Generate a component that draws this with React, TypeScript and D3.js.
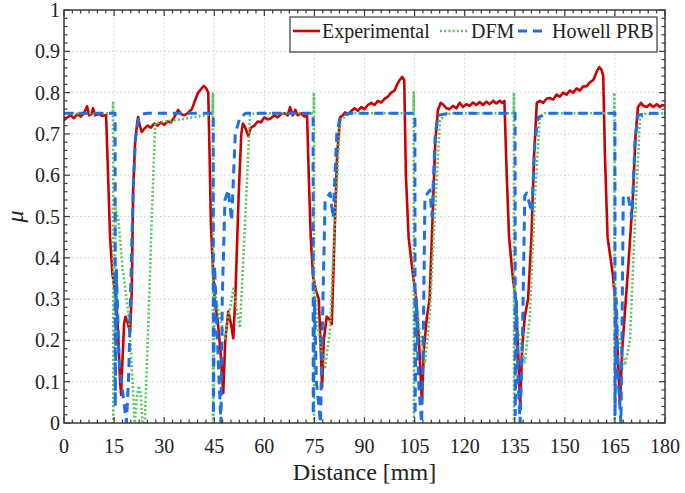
import React from "react";
import * as d3 from "d3";

type P = [number, number];

const xTicks = [0, 15, 30, 45, 60, 75, 90, 105, 120, 135, 150, 165, 180];
const yTicks = [0, 0.1, 0.2, 0.3, 0.4, 0.5, 0.6, 0.7, 0.8, 0.9, 1];
const yTickLabels = ["0", "0.1", "0.2", "0.3", "0.4", "0.5", "0.6", "0.7", "0.8", "0.9", "1"];
const seriesNames = ["Experimental", "DFM", "Howell PRB"];

const experimental: P[] = [
  [0, 0.733], [1, 0.74], [2, 0.745], [3, 0.738], [4, 0.748], [5, 0.742], [6, 0.75], [6.9, 0.767], [7.5, 0.745], [8.2, 0.748], [8.7, 0.762], [9.3, 0.745], [10.5, 0.748], [11.5, 0.744], [12.6, 0.746],
  [13.2, 0.6], [13.8, 0.45], [14.5, 0.36], [15.3, 0.32], [15.8, 0.28], [16.3, 0.2], [16.8, 0.1], [17.1, 0.068], [17.5, 0.15], [18.0, 0.24], [18.4, 0.257], [19.0, 0.245], [19.8, 0.22], [20.3, 0.32], [20.7, 0.56], [21.3, 0.68], [21.9, 0.726], [22.2, 0.741], [22.7, 0.72], [23.3, 0.705],
  [24, 0.712], [25, 0.72], [26, 0.715], [27, 0.725], [28, 0.72], [29, 0.728], [30, 0.722], [31, 0.73], [32, 0.728], [33, 0.74], [34.2, 0.758], [35, 0.748], [36, 0.745], [37, 0.75], [38.3, 0.76], [39.2, 0.78], [40.2, 0.8], [41.2, 0.81], [41.9, 0.816], [42.6, 0.81], [43.2, 0.8],
  [43.6, 0.65], [44.0, 0.48], [44.7, 0.358], [45.2, 0.29], [46, 0.25], [46.8, 0.18], [47.7, 0.073], [48.3, 0.2], [49.2, 0.27], [50, 0.24], [50.7, 0.205], [51.3, 0.3], [52.3, 0.55], [53.1, 0.7], [53.6, 0.725], [54.3, 0.715], [55.2, 0.695], [56, 0.715], [57, 0.72], [58, 0.73], [59, 0.728], [60, 0.74], [61, 0.735], [62, 0.738], [63, 0.745], [64, 0.74], [65, 0.748], [66, 0.75], [67, 0.745], [67.7, 0.765], [68.5, 0.745], [69.3, 0.758], [70, 0.745], [71, 0.75], [72, 0.742], [72.8, 0.745],
  [73.3, 0.6], [73.9, 0.45], [74.6, 0.354], [75.5, 0.32], [76.3, 0.3], [76.8, 0.2], [77.3, 0.087], [77.8, 0.2], [78.7, 0.258], [79.5, 0.25], [80.2, 0.24], [81, 0.45], [81.8, 0.65], [82.7, 0.74], [83.5, 0.745], [84.2, 0.752], [85, 0.746], [86, 0.755], [87, 0.762], [88, 0.756], [89, 0.765], [90, 0.76], [91, 0.77], [92, 0.775], [93, 0.77], [94, 0.78], [95, 0.776], [96, 0.785], [97, 0.79], [98, 0.8], [99, 0.805], [99.8, 0.82], [100.5, 0.83], [101.3, 0.838], [101.9, 0.83],
  [102.4, 0.6], [103.2, 0.45], [104.6, 0.354], [105.5, 0.3], [106.3, 0.2], [107.2, 0.05], [107.8, 0.18], [108.7, 0.257], [109.5, 0.3], [110.4, 0.5], [111.2, 0.68], [112, 0.758], [112.8, 0.775], [113.7, 0.77], [114.5, 0.762], [115.5, 0.76], [116.5, 0.768], [117.5, 0.762], [118.5, 0.775], [119.5, 0.765], [120.5, 0.772], [121.5, 0.768], [122.5, 0.776], [123.5, 0.77], [124.5, 0.777], [125.5, 0.77], [126.5, 0.778], [127.5, 0.772], [128.5, 0.78], [129.5, 0.774], [130.5, 0.78], [131.3, 0.775], [131.9, 0.78],
  [132.6, 0.6], [133.3, 0.45], [134.5, 0.346], [135.3, 0.3], [136, 0.18], [136.6, 0.04], [137.2, 0.18], [138, 0.257], [139, 0.3], [140, 0.45], [140.8, 0.65], [141.6, 0.775], [142.5, 0.78], [143.5, 0.775], [144.5, 0.785], [145.5, 0.787], [146.5, 0.783], [147.5, 0.795], [148.5, 0.79], [149.5, 0.8], [150.5, 0.795], [151.5, 0.805], [152.5, 0.8], [153.5, 0.81], [154.5, 0.805], [155.5, 0.815], [156.5, 0.815], [157.5, 0.825], [158.5, 0.83], [159.5, 0.85], [160.3, 0.862], [161, 0.855], [161.5, 0.84],
  [162, 0.65], [162.8, 0.45], [164.4, 0.358], [165, 0.3], [165.8, 0.18], [166.5, 0.045], [167.2, 0.18], [168, 0.27], [169, 0.38], [170.4, 0.55], [171.2, 0.7], [171.9, 0.765], [172.8, 0.775], [173.5, 0.768], [174.5, 0.765], [175.5, 0.772], [176.5, 0.765], [177.5, 0.772], [178.5, 0.765], [179.2, 0.77], [180, 0.768],
];

const dfm: P[] = [
  [0, 0.75], [14.6, 0.75], [14.7, 0.775], [14.75, 0.0], [15.5, 0.52], [16.3, 0.49], [17.5, 0.38], [19.2, 0.27], [20, 0.18], [21.2, 0.0], [21.8, 0.06], [22.4, 0.09], [23, 0.07], [23.5, 0.0], [24.2, 0.0], [25.3, 0.25], [26.3, 0.5], [27.3, 0.725], [30, 0.73], [35, 0.735], [40, 0.742], [44.5, 0.748],
  [44.6, 0.8], [44.65, 0.0], [45.1, 0.32], [46.5, 0.26], [48.2, 0.205], [50.7, 0.325], [52.7, 0.23], [54.3, 0.5], [55.7, 0.745], [57, 0.75], [74.8, 0.75],
  [74.85, 0.8], [74.9, 0.0], [75.0, 0.346], [75.9, 0.24], [77, 0.18], [78.2, 0.135], [79.6, 0.22], [81.2, 0.5], [82.7, 0.733], [84.7, 0.745], [86, 0.75], [104.7, 0.75],
  [104.75, 0.8], [104.8, 0.0], [104.9, 0.33], [106.6, 0.22], [108.1, 0.145], [109.6, 0.27], [111.1, 0.515], [112.6, 0.733], [114, 0.745], [116, 0.75], [134.7, 0.75],
  [134.75, 0.8], [134.8, 0.0], [134.9, 0.34], [136, 0.22], [138, 0.145], [139.5, 0.257], [141, 0.54], [142.5, 0.74], [144, 0.75], [164.8, 0.75],
  [164.85, 0.8], [164.9, 0.0], [165.0, 0.34], [166, 0.21], [168, 0.14], [169.5, 0.2], [171, 0.487], [172.5, 0.738], [174, 0.748], [180, 0.75],
];

const howell: P[] = [
  [0, 0.75], [15.3, 0.75], [15.35, 0.04], [15.7, 0.37], [16.5, 0.15], [17.5, 0.08], [18.7, 0.0], [19.4, 0.12], [20.2, 0.4], [20.8, 0.58], [21.4, 0.69], [22.3, 0.735], [23.5, 0.748], [25, 0.75], [44.7, 0.75],
  [44.75, 0.02], [45.1, 0.38], [46.2, 0.15], [47, 0.0], [47.4, 0.3], [48.2, 0.54], [49.2, 0.565], [50.2, 0.49], [51.3, 0.7], [52.7, 0.74], [54.5, 0.75], [74.6, 0.75],
  [74.65, 0.02], [75, 0.3], [75.6, 0.1], [76.8, 0.0], [77.3, 0.2], [78.2, 0.54], [79.7, 0.557], [80.6, 0.497], [81.7, 0.7], [82.7, 0.74], [85, 0.75], [105.1, 0.75],
  [105.15, 0.02], [105.5, 0.3], [106.2, 0.1], [107.1, 0.0], [107.6, 0.2], [108.1, 0.547], [109.6, 0.564], [110.2, 0.5], [111.2, 0.7], [112, 0.745], [115, 0.75], [135.1, 0.75],
  [135.15, 0.02], [135.5, 0.3], [136, 0.1], [136.6, 0.0], [137.3, 0.2], [138, 0.55], [138.6, 0.557], [140.1, 0.51], [141, 0.68], [142, 0.74], [145, 0.75], [165, 0.75],
  [165.05, 0.02], [165.4, 0.3], [166, 0.1], [166.8, 0.0], [167.1, 0.2], [167.5, 0.545], [168.9, 0.552], [170.1, 0.497], [171, 0.68], [171.9, 0.745], [175, 0.75], [180, 0.75],
];

const W = 685;
const H = 493;
const L = 64, R = 665, T = 10, B = 423;
const FONT = '"Liberation Serif", "DejaVu Serif", "Noto Serif", "Nimbus Roman", "Nimbus Roman No9 L", FreeSerif, Tinos, "Times New Roman", Times, Georgia, serif';

export default function App() {
  const x = d3.scaleLinear().domain([0, 180]).range([L, R]);
  const y = d3.scaleLinear().domain([0, 1]).range([B, T]);
  const line = d3.line<P>().x((d) => x(d[0])).y((d) => y(d[1]));

  const xMinor = d3.range(0, 180.001, 2.5).filter((v) => Math.abs(v / 15 - Math.round(v / 15)) > 1e-6);
  const yMinor = d3.range(0, 1.0001, 0.02).filter((v) => Math.abs(v * 10 - Math.round(v * 10)) > 1e-6);

  const axisColor = "#3a3a3a";
  const red = "#cc0000";
  const green = "#5ec45e";
  const blue = "#1f6fe0";
  const ts: React.CSSProperties = { fontFamily: FONT };

  return (
    <svg width={W} height={H} style={{ position: "absolute", left: 0, top: 0, background: "#fff", fontFamily: FONT }}>
      <defs>
        <clipPath id="plot">
          <rect x={L} y={T - 2} width={R - L} height={B - T + 2} />
        </clipPath>
      </defs>
      <rect x={0} y={0} width={W} height={H} fill="#fff" />
      <g stroke="#cfcfcf" strokeWidth={1} strokeDasharray="1.5,2.5">
        {xTicks.slice(1, -1).map((t) => (
          <line key={"gx" + t} x1={x(t)} x2={x(t)} y1={T} y2={B} />
        ))}
        {yTicks.slice(1, -1).map((t) => (
          <line key={"gy" + t} x1={L} x2={R} y1={y(t)} y2={y(t)} />
        ))}
      </g>
      <g clipPath="url(#plot)" fill="none" strokeLinejoin="round">
        <path d={line(experimental) || ""} stroke={red} strokeWidth={2.6} />
        <path d={line(dfm) || ""} stroke={green} strokeWidth={2.6} strokeDasharray="2,2.2" />
        <path d={line(howell) || ""} stroke={blue} strokeWidth={3} strokeDasharray="9,6" />
      </g>
      <g stroke={axisColor} strokeWidth={1.2}>
        {xTicks.map((t) => (
          <g key={"xt" + t}>
            <line x1={x(t)} x2={x(t)} y1={B} y2={B - 6} />
            <line x1={x(t)} x2={x(t)} y1={T} y2={T + 6} />
          </g>
        ))}
        {xMinor.map((t) => (
          <g key={"xm" + t}>
            <line x1={x(t)} x2={x(t)} y1={B} y2={B - 3.5} />
            <line x1={x(t)} x2={x(t)} y1={T} y2={T + 3.5} />
          </g>
        ))}
        {yTicks.map((t) => (
          <g key={"yt" + t}>
            <line x1={L} x2={L + 6} y1={y(t)} y2={y(t)} />
            <line x1={R} x2={R - 6} y1={y(t)} y2={y(t)} />
          </g>
        ))}
        {yMinor.map((t) => (
          <g key={"ym" + t}>
            <line x1={L} x2={L + 3.5} y1={y(t)} y2={y(t)} />
            <line x1={R} x2={R - 3.5} y1={y(t)} y2={y(t)} />
          </g>
        ))}
      </g>
      <rect x={L} y={T} width={R - L} height={B - T} fill="none" stroke={axisColor} strokeWidth={1.5} />
      <g fontSize={20} fill="#222">
        {xTicks.map((t) => (
          <text key={"xl" + t} style={ts} x={x(t)} y={B + 30} textAnchor="middle">{t}</text>
        ))}
        {yTicks.map((t, i) => (
          <text key={"yl" + t} style={ts} x={L - 4} y={y(t) + 7} textAnchor="end">{yTickLabels[i]}</text>
        ))}
      </g>
      <text style={ts} x={(L + R) / 2} y={480} textAnchor="middle" fontSize={24} fill="#222">Distance [mm]</text>
      <text style={ts} x={17} y={y(0.5) + 6} textAnchor="middle" fontSize={24} fontStyle="italic" fill="#222"
        transform={`rotate(-90, 17, ${y(0.5)})`}>μ</text>
      <g>
        <rect x={290} y={17} width={367} height={35} fill="#fff" stroke={axisColor} strokeWidth={1.2} />
        <line x1={293} x2={320} y1={31} y2={31} stroke={red} strokeWidth={2.6} />
        <text style={ts} x={322} y={38} fontSize={20} fill="#222">{seriesNames[0]}</text>
        <line x1={440} x2={468} y1={31} y2={31} stroke={green} strokeWidth={2.6} strokeDasharray="2,2.2" />
        <text style={ts} x={471} y={38} fontSize={20} fill="#222">{seriesNames[1]}</text>
        <line x1={518} x2={548} y1={31} y2={31} stroke={blue} strokeWidth={3} strokeDasharray="9,6" />
        <text style={ts} x={552} y={38} fontSize={20} fill="#222">{seriesNames[2]}</text>
      </g>
    </svg>
  );
}
